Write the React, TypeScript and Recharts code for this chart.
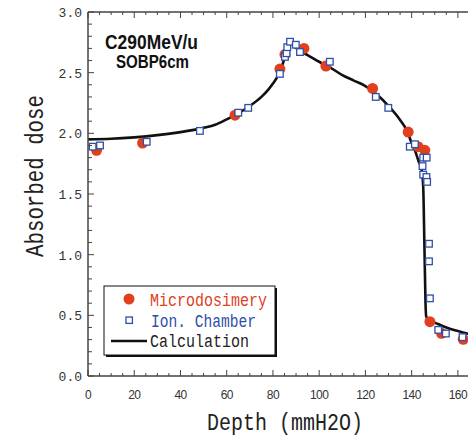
import React from 'react';
import { ComposedChart, Line, Scatter, XAxis, YAxis } from 'recharts';

// microdosimetry (red dots)
const microDepth = [3.7, 23.6, 63.6, 83.0, 85.2, 93.4, 102.9, 123.1, 138.5, 142.8, 145.7, 147.9, 152.9, 162.3];
const microDose = [1.86, 1.92, 2.15, 2.53, 2.65, 2.70, 2.555, 2.37, 2.01, 1.89, 1.86, 0.448, 0.352, 0.302];

// ion chamber (blue squares)
const ionDepth = [2.0, 5.2, 25.4, 48.4, 65.0, 69.3, 83.0, 85.2, 85.9, 86.2, 87.4, 89.9, 91.7, 104.6, 124.5, 129.9, 139.2, 141.4, 145.0, 146.5, 144.7, 145.0, 146.4, 146.7, 147.5, 147.5, 147.9, 151.5, 154.8, 162.0];
const ionDose = [1.89, 1.90, 1.93, 2.02, 2.17, 2.21, 2.49, 2.63, 2.66, 2.71, 2.755, 2.73, 2.67, 2.59, 2.30, 2.21, 1.89, 1.91, 1.80, 1.80, 1.73, 1.66, 1.64, 1.60, 1.09, 0.945, 0.64, 0.38, 0.35, 0.32];

// calculation curve
const calcDepth = [0, 10, 20, 30, 40, 50, 55, 60, 65, 70, 75, 78, 80, 82, 84, 86, 87.5, 89, 92, 95, 100, 105, 110, 115, 120, 125, 130, 135, 138, 140, 141.4, 143, 144.3, 145, 145.5, 146, 146.3, 147.5, 150, 155, 160, 164, 170];
const calcDose = [1.95, 1.955, 1.967, 1.985, 2.01, 2.045, 2.07, 2.115, 2.165, 2.225, 2.30, 2.36, 2.41, 2.47, 2.56, 2.68, 2.755, 2.72, 2.675, 2.645, 2.59, 2.54, 2.48, 2.435, 2.39, 2.32, 2.225, 2.11, 2.02, 1.92, 1.86, 1.77, 1.70, 1.56, 1.1, 0.6, 0.49, 0.46, 0.44, 0.40, 0.37, 0.35, 0.33];

const xMajor = [0, 20, 40, 60, 80, 100, 120, 140, 160];
const yMajor = [0, 0.5, 1.0, 1.5, 2.0, 2.5, 3.0];
const xTicks = Array.from({ length: 35 }, (_, i) => i * 5);
const yTicks = Array.from({ length: 31 }, (_, i) => i / 10);

const microData = microDepth.map((x, i) => ({ x, y: microDose[i] }));
const ionData = ionDepth.map((x, i) => ({ x, y: ionDose[i] }));
const calcData = calcDepth.map((x, i) => ({ x, y: calcDose[i] }));

const RED = '#E0401E';
const BLUE = '#2F4FA8';
const AXIS = '#444';

const BottomTick = ({ x, y, payload }: any) => {
  const major = xMajor.includes(payload.value);
  return (
    <g>
      <line x1={x} x2={x} y1={y} y2={y - (major ? 6 : 3)} stroke={AXIS} strokeWidth={1} />
      {major && (
        <text x={x} y={y + 23} textAnchor="middle" fontSize={12} fill="#333" letterSpacing={-0.6}
          fontFamily="'Liberation Sans', Arial, sans-serif">
          {payload.value}
        </text>
      )}
    </g>
  );
};

const TopTick = ({ x, y, payload }: any) => {
  const major = xMajor.includes(payload.value);
  return <line x1={x} x2={x} y1={y} y2={y + (major ? 6 : 3)} stroke={AXIS} strokeWidth={1} />;
};

const LeftTick = ({ x, y, payload }: any) => {
  const major = yMajor.some((v) => Math.abs(v - payload.value) < 1e-6);
  return (
    <g>
      <line x1={x} x2={x + (major ? 6 : 4)} y1={y} y2={y} stroke={AXIS} strokeWidth={1} />
      {major && (
        <text x={x - 6} y={y + 5} textAnchor="end" fontSize={13} fill="#333"
          fontFamily="'Liberation Mono', monospace">
          {payload.value.toFixed(1)}
        </text>
      )}
    </g>
  );
};

const Dot = (p: any) => <circle cx={p.cx} cy={p.cy} r={5.5} fill={RED} />;
const Square = (p: any) => (
  <rect x={p.cx - 3.3} y={p.cy - 3.3} width={6.6} height={6.6} fill="#fff" stroke={BLUE} strokeWidth={1.3} />
);

export default function App() {
  return (
    <div style={{ position: 'absolute', left: 0, top: 0, width: 468, height: 438, overflow: 'hidden', background: '#fff' }}>
      <ComposedChart width={481} height={438} margin={{ top: 0, right: 0, bottom: 0, left: 0 }}>
        <XAxis xAxisId={0} dataKey="x" type="number" domain={[0, 170]} ticks={xTicks}
          height={62} tickSize={0} tickMargin={0} tick={<BottomTick />}
          axisLine={{ stroke: AXIS, strokeWidth: 1.5 }} interval={0} allowDataOverflow />
        <XAxis xAxisId="top" orientation="top" dataKey="x" type="number" domain={[0, 170]} ticks={xTicks}
          height={12} tickSize={0} tickMargin={0} tick={<TopTick />}
          axisLine={{ stroke: AXIS, strokeWidth: 1.5 }} interval={0} allowDataOverflow />
        <YAxis dataKey="y" type="number" domain={[0, 3]} ticks={yTicks} width={88}
          tickSize={0} tickMargin={0} tick={<LeftTick />} interval={0}
          axisLine={{ stroke: AXIS, strokeWidth: 1.5 }} />
        <Line data={calcData} dataKey="y" type="monotone" stroke="#111" strokeWidth={2.6}
          dot={false} activeDot={false} isAnimationActive={false} />
        <Scatter data={microData} dataKey="y" shape={<Dot />} isAnimationActive={false} />
        <Scatter data={ionData} dataKey="y" shape={<Square />} isAnimationActive={false} />
      </ComposedChart>
      <svg width={468} height={438} style={{ position: 'absolute', left: 0, top: 0, pointerEvents: 'none' }}>
        <g fontFamily="'Liberation Sans', Arial, sans-serif" fontWeight="bold" fill="#111">
          <text x={105} y={49} fontSize={20} textLength={93} lengthAdjust="spacingAndGlyphs">C290MeV/u</text>
          <text x={116} y={68} fontSize={19} textLength={73} lengthAdjust="spacingAndGlyphs">SOBP6cm</text>
        </g>
        <g fontFamily="'Liberation Mono', monospace">
          <text x={207} y={430} fontSize={23} fill="#222" textLength={156} lengthAdjust="spacingAndGlyphs">Depth (mmH2O)</text>
          <text transform="translate(43,176) rotate(-90)" textAnchor="middle" fontSize={25} fill="#222"
            textLength={162} lengthAdjust="spacingAndGlyphs">Absorbed dose</text>
        </g>
        <g>
          <rect x={106} y={288} width={171} height={69} fill="#111" />
          <rect x={104} y={286} width={171} height={69} fill="#fff" stroke="#111" strokeWidth={1} />
          <circle cx={129} cy={299} r={5.5} fill={RED} />
          <rect x={126} y={317} width={6.4} height={6.4} fill="#fff" stroke={BLUE} strokeWidth={1.3} />
          <line x1={111} x2={147} y1={341} y2={341} stroke="#111" strokeWidth={2.6} />
          <g fontFamily="'Liberation Mono', monospace" fontSize={18}>
            <text x={150} y={306} fill={RED} textLength={117} lengthAdjust="spacingAndGlyphs">Microdosimery</text>
            <text x={151} y={327} fill={BLUE} textLength={105} lengthAdjust="spacingAndGlyphs">Ion. Chamber</text>
            <text x={150} y={347} fill="#222" textLength={99} lengthAdjust="spacingAndGlyphs">Calculation</text>
          </g>
        </g>
      </svg>
    </div>
  );
}
